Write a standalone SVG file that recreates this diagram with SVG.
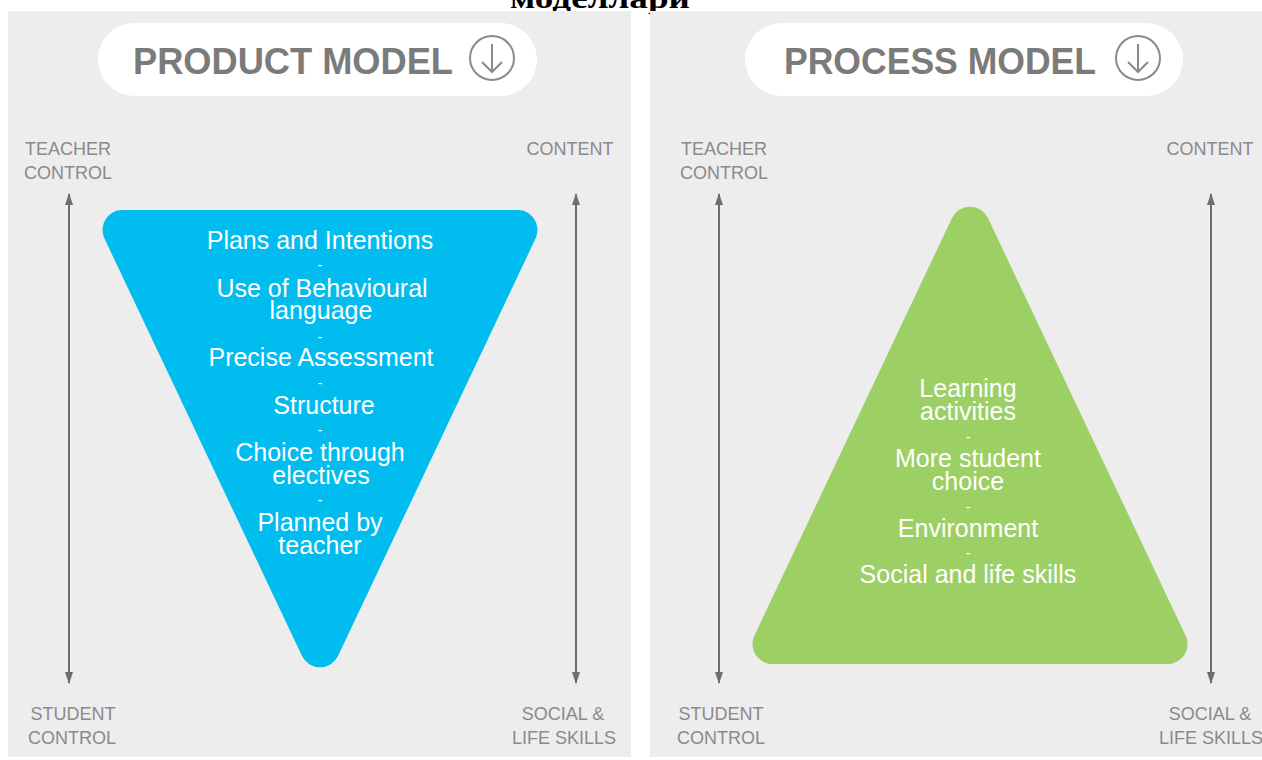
<svg xmlns="http://www.w3.org/2000/svg" width="1262" height="760" viewBox="0 0 1262 760">
<style>
.panel{fill:#ededed}
.pill{fill:#ffffff}
.title{font-family:"Liberation Sans",Arial,sans-serif;font-weight:bold;font-size:37px;fill:#7b7b7b}
.icon{fill:none;stroke:#8a8a8a;stroke-width:2}
.lbl{font-family:"Liberation Sans",Arial,sans-serif;font-size:18px;fill:#8a8a8a;text-anchor:middle}
.tri{font-family:"Liberation Sans",Arial,sans-serif;font-size:25px;fill:#ffffff;text-anchor:middle}
.dash{font-family:"Liberation Sans",Arial,sans-serif;font-size:14px;fill:#ffffff;text-anchor:middle}
.axis{stroke:#6e6e6e;stroke-width:2;fill:none;marker-start:url(#ah);marker-end:url(#ah)}
</style>
<defs>
<marker id="ah" viewBox="0 0 12 8" refX="11" refY="4" markerWidth="12" markerHeight="8" markerUnits="userSpaceOnUse" orient="auto-start-reverse">
<path d="M0,0 L12,4 L0,8 Z" fill="#6e6e6e"/>
</marker>
</defs>
<rect width="1262" height="760" fill="#ffffff"/>
<text x="600" y="8" font-family="Liberation Serif,'Times New Roman',serif" font-weight="bold" font-size="30" text-anchor="middle" textLength="180" lengthAdjust="spacingAndGlyphs" fill="#000">моделлари</text>
<rect class="panel" x="8" y="11" width="623" height="746"/>
<rect class="panel" x="650" y="11" width="612" height="746"/>

<g id="product-title">
<rect class="pill" x="98" y="23" width="439" height="73" rx="36.5"/>
<text class="title" x="133" y="74" textLength="320" lengthAdjust="spacingAndGlyphs">PRODUCT MODEL</text>
<circle class="icon" cx="492" cy="58" r="22"/>
<path class="icon" d="M492,44 V72 M482,62 L492,72 L502,62"/>
</g>
<g id="process-title">
<rect class="pill" x="745" y="23" width="438" height="73" rx="36.5"/>
<text class="title" x="784" y="74" textLength="312" lengthAdjust="spacingAndGlyphs">PROCESS MODEL</text>
<circle class="icon" cx="1138" cy="58" r="22"/>
<path class="icon" d="M1138,44 V72 M1128,62 L1138,72 L1148,62"/>
</g>

<g id="connectors">
<line class="axis" x1="69" y1="194" x2="69" y2="683"/>
<line class="axis" x1="576" y1="194" x2="576" y2="683"/>
<line class="axis" x1="719" y1="194" x2="719" y2="683"/>
<line class="axis" x1="1211" y1="194" x2="1211" y2="683"/>
</g>

<g id="product-labels">
<text class="lbl" x="68" y="155">TEACHER</text>
<text class="lbl" x="68" y="179">CONTROL</text>
<text class="lbl" x="570" y="155">CONTENT</text>
<text class="lbl" x="73" y="720">STUDENT</text>
<text class="lbl" x="72" y="744">CONTROL</text>
<text class="lbl" x="563" y="720">SOCIAL &amp;</text>
<text class="lbl" x="564" y="744">LIFE SKILLS</text>
</g>
<g id="process-labels">
<text class="lbl" x="724" y="155">TEACHER</text>
<text class="lbl" x="724" y="179">CONTROL</text>
<text class="lbl" x="1210" y="155">CONTENT</text>
<text class="lbl" x="721" y="720">STUDENT</text>
<text class="lbl" x="721" y="744">CONTROL</text>
<text class="lbl" x="1210" y="720">SOCIAL &amp;</text>
<text class="lbl" x="1211" y="744">LIFE SKILLS</text>
</g>

<g id="product-triangle">
<path fill="#00bcef" d="M122.6,210 L517.4,210 A20,20 0 0 1 535.5,238.6 L338.1,655.8 A20,20 0 0 1 301.9,655.8 L104.5,238.6 A20,20 0 0 1 122.6,210 Z"/>
<text class="tri" x="320" y="249">Plans and Intentions</text>
<text class="dash" x="320" y="270">-</text>
<text class="tri" x="322" y="297">Use of Behavioural</text>
<text class="tri" x="321" y="319">language</text>
<text class="dash" x="320" y="342">-</text>
<text class="tri" x="321" y="366">Precise Assessment</text>
<text class="dash" x="320" y="388">-</text>
<text class="tri" x="324" y="414">Structure</text>
<text class="dash" x="320" y="435">-</text>
<text class="tri" x="320" y="461">Choice through</text>
<text class="tri" x="321" y="484">electives</text>
<text class="dash" x="320" y="505">-</text>
<text class="tri" x="320" y="531">Planned by</text>
<text class="tri" x="320" y="554">teacher</text>
</g>

<g id="process-triangle">
<path fill="#9ccf64" d="M772.6,664 L1167.4,664 A20,20 0 0 0 1185.5,635.4 L988.1,218.2 A20,20 0 0 0 951.9,218.2 L754.5,635.4 A20,20 0 0 0 772.6,664 Z"/>
<text class="tri" x="968" y="397">Learning</text>
<text class="tri" x="968" y="420">activities</text>
<text class="dash" x="968" y="442">-</text>
<text class="tri" x="968" y="467">More student</text>
<text class="tri" x="968" y="490">choice</text>
<text class="dash" x="968" y="512">-</text>
<text class="tri" x="968" y="537">Environment</text>
<text class="dash" x="968" y="558">-</text>
<text class="tri" x="968" y="583">Social and life skills</text>
</g>
</svg>
